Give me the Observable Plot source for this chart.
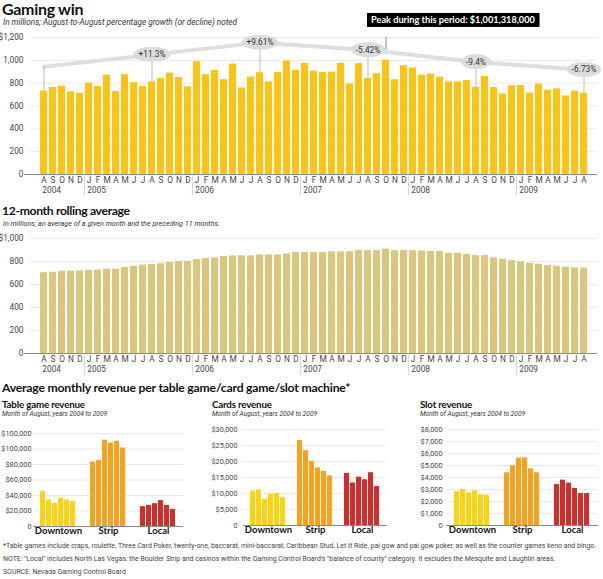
<!DOCTYPE html>
<html><head><meta charset="utf-8">
<script src="https://cdn.jsdelivr.net/npm/d3@7"></script>
<script src="https://cdn.jsdelivr.net/npm/@observablehq/plot@0.6"></script>
<style>
body{margin:0;background:#fff;}
#page{position:relative;width:603px;height:579px;overflow:hidden;background:#fff;color:#111;}
.abs{position:absolute;white-space:nowrap;line-height:1.15;}
.head{font-family:Lato,'Open Sans',sans-serif;font-weight:700;color:#111;}
.narrow{font-family:Roboto,'Liberation Sans',sans-serif;}
.sub{font-style:italic;color:#333;}
.foot{font-size:6.95px;color:#444;}
svg{position:absolute;overflow:visible;}
</style></head>
<body><div id="page">
<div class="abs head" style="left:2px;top:0px;font-size:16px;letter-spacing:-0.3px;">Gaming win</div>
<div class="abs narrow sub" style="left:3px;top:18px;font-size:8.2px;">In millions; August-to-August percentage growth (or decline) noted</div>
<div class="abs head" style="left:2px;top:204px;font-size:12.2px;letter-spacing:-0.35px;">12-month rolling average</div>
<div class="abs narrow sub" style="left:3px;top:220px;font-size:7.2px;">In millions; an average of a given month and the preceding 11 months.</div>
<div class="abs head" style="left:2px;top:381px;font-size:12.2px;letter-spacing:-0.2px;">Average monthly revenue per table game/card game/slot machine*</div>
<div class="abs head" style="left:2px;top:399px;font-size:9.8px;letter-spacing:-0.2px;">Table game revenue</div>
<div class="abs narrow sub" style="left:2px;top:411px;font-size:6.6px;">Month of August, years 2004 to 2009</div>
<div class="abs head" style="left:212px;top:399px;font-size:9.8px;letter-spacing:-0.2px;">Cards revenue</div>
<div class="abs narrow sub" style="left:212px;top:411px;font-size:6.6px;">Month of August, years 2004 to 2009</div>
<div class="abs head" style="left:420px;top:399px;font-size:9.8px;letter-spacing:-0.2px;">Slot revenue</div>
<div class="abs narrow sub" style="left:420px;top:411px;font-size:6.6px;">Month of August, years 2004 to 2009</div>
<div class="abs narrow foot" style="left:3px;top:542px;">*Table games include craps, roulette, Three Card Poker, twenty-one, baccarat, mini-baccarat, Caribbean Stud, Let It Ride, pai gow and pai gow poker, as well as the counter games keno and bingo.</div>
<div class="abs narrow foot" style="left:3px;top:555px;">NOTE: "Local" includes North Las Vegas, the Boulder Strip and casinos within the Gaming Control Board's "balance of county" category. It excludes the Mesquite and Laughlin areas.</div>
<div class="abs narrow foot" style="left:3px;top:568px;">SOURCE: Nevada Gaming Control Board</div>
</div>
<script>
const NARROW = "Roboto,'Liberation Sans',sans-serif";
const BOLD = "Lato,'Open Sans',sans-serif";
const YELLOW = "#fcc412", KHAKI = "#d9c77d";
const DT = "#fdd20f", ST = "#f7a21c", LO = "#d42b2b";

// ---- data ----
const monthLetters = ["J","F","M","A","M","J","J","A","S","O","N","D"];
const startYear = 2004, startMonth = 7; // August 2004
const gamingWin = [
  732, 762, 774, 724, 712,
  800, 771, 871, 727, 874, 803, 771, 812, 841, 888, 850, 768,
  988, 874, 912, 830, 968, 759, 853, 891, 812, 894, 994, 912,
  975, 905, 894, 897, 974, 793, 971, 843, 883, 1001.318, 830, 953,
  933, 871, 880, 853, 812, 812, 824, 764, 859, 762, 706, 777,
  780, 712, 791, 738, 750, 688, 730, 712
];
const rollingAvg = [
  702, 707, 716, 716, 718,
  722, 725, 733, 733, 748, 757, 768, 774, 780, 791, 800, 800,
  817, 826, 832, 843, 849, 849, 849, 858, 858, 858, 867, 878,
  878, 877, 878, 884, 884, 885, 896, 894, 895, 907, 894, 896,
  894, 891, 888, 888, 872, 872, 861, 852, 852, 832, 820, 809,
  797, 785, 777, 765, 759, 751, 745, 742
];
const growthLabels = ["+11.3%", "+9.61%", "-5.42%", "-9.4%", "-6.73%"];
const peakLabel = "Peak during this period: $1,001,318,000";
const winTicks = [0, 200, 400, 600, 800, 1000, 1200];
const winTickLabels = ["0", "200", "400", "600", "800", "1,000", "$1,200"];
const avgTicks = [0, 200, 400, 600, 800, 1000];
const avgTickLabels = ["0", "200", "400", "600", "800", "$1,000"];

const regions = ["Downtown", "Strip", "Local"];
const augYears = ["2004", "2005", "2006", "2007", "2008", "2009"];
const tableDowntown = [45400, 34200, 29900, 36000, 34200, 32500];
const tableStrip = [83100, 85300, 111300, 107800, 110000, 101300];
const tableLocal = [25600, 27300, 29500, 33400, 27300, 22100];
const cardsDowntown = [10800, 11100, 8200, 9700, 10000, 8700];
const cardsStrip = [26600, 23400, 20000, 18000, 16900, 15500];
const cardsLocal = [16300, 13300, 15100, 14300, 16500, 12200];
const slotDowntown = [2830, 3000, 2720, 2890, 2560, 2530];
const slotStrip = [4390, 4980, 5610, 5640, 4720, 4390];
const slotLocal = [3420, 3780, 3530, 3080, 2670, 2670];
const tableTicks = [0, 20000, 40000, 60000, 80000, 100000, 120000];
const tableTickLabels = ["0", "$20,000", "$40,000", "$60,000", "$80,000", "$100,000", "$100,000"];
const cardsTicks = [0, 5000, 10000, 15000, 20000, 25000, 30000];
const cardsTickLabels = ["0", "$5,000", "$10,000", "$15,000", "$20,000", "$25,000", "$30,000"];
const slotTicks = [0, 1000, 2000, 3000, 4000, 5000, 6000, 7000, 8000];
const slotTickLabels = ["0", "$1,000", "$2,000", "$3,000", "$4,000", "$5,000", "$6,000", "$7,000", "$8,000"];

// ---- tables ----
const rows = gamingWin.map((v, i) => {
  const t = startMonth + i;
  const y = startYear + Math.floor(t / 12);
  return {key: `${y}-${t % 12}`, year: String(y), m: t % 12, v, r: rollingAvg[i]};
});
const janRows = rows.filter(d => d.m === 0);
const yearStarts = rows.filter((d, i) => i === 0 || d.m === 0);
const augRows = rows.filter(d => d.m === 7).map((d, j) => ({...d, label: j ? growthLabels[j - 1] : null, trend: 1.33 * d.v - 30}));
const peakRow = rows.reduce((a, b) => (b.v > a.v ? b : a));

const page = document.getElementById("page");
const PAD = 0.2;
const step1 = (603 - 30 - 6) / (rows.length - PAD + 2 * PAD);
const monthFmt = k => monthLetters[+k.split("-")[1]];
const baseStyle = {fontFamily: NARROW, fontSize: "8.3px", color: "#444", background: "transparent", overflow: "visible"};

function timeChart({top, height, mT, mB, yMax, ticks, tickLabels, field, fill, sepTop, extra}) {
  const svg = Plot.plot({
    width: 603, height, marginTop: mT, marginBottom: mB, marginLeft: 30, marginRight: 6,
    style: baseStyle,
    x: {domain: rows.map(d => d.key), padding: PAD},
    y: {domain: [0, yMax]},
    marks: [
      Plot.ruleY(ticks.slice(1), {stroke: "#e8e8e8"}),
      Plot.barY(rows, {x: "key", y: field, fill}),
      Plot.ruleY([0], {stroke: "#8a8a8a", insetLeft: -6}),
      Plot.axisY(ticks, {tickSize: 0, tickPadding: 7, label: null, tickFormat: d => tickLabels[ticks.indexOf(d)]}),
      Plot.axisX({tickSize: 0, tickPadding: 3, label: null, tickFormat: monthFmt}),
      Plot.ruleX(janRows, {x: "key", dx: -step1 / 2, insetTop: sepTop, insetBottom: -22, stroke: "#c8c8c8", strokeWidth: 0.8}),
      Plot.text(yearStarts, {x: "key", text: "year", frameAnchor: "bottom", lineAnchor: "middle", dy: 16, dx: -step1 / 2 + 3, textAnchor: "start", fill: "#444"}),
      ...(extra || [])
    ]
  });
  svg.style.left = "0px";
  svg.style.top = top + "px";
  page.appendChild(svg);
  return svg;
}

const svg1 = timeChart({
  top: 0, height: 210, mT: 37, mB: 36, yMax: 1200, ticks: winTicks, tickLabels: winTickLabels,
  field: "v", fill: YELLOW, sepTop: 139,
  extra: [
    Plot.line(augRows, {x: "key", y: "trend", stroke: "#dedede", strokeWidth: 4}),
    Plot.ruleX(augRows, {x: "key", y1: "v", y2: "trend", stroke: "#a8a8a8", strokeWidth: 0.8}),
    Plot.ruleX([peakRow], {x: "key", y1: "v", y2: () => 1200, insetTop: -10, stroke: "#666", strokeWidth: 0.8}),
    Plot.text(augRows.filter(d => d.label), {x: "key", y: "trend", text: "label", fill: "#333", fontSize: 8.3}),
    Plot.text([peakRow], {x: "key", text: () => peakLabel, frameAnchor: "top", lineAnchor: "middle", dy: -17, dx: -15, textAnchor: "start", fill: "#fff", fontWeight: "bold", fontFamily: BOLD, fontSize: 9.2})
  ]
});
timeChart({
  top: 228, height: 150, mT: 10, mB: 25, yMax: 1000, ticks: avgTicks, tickLabels: avgTickLabels,
  field: "r", fill: KHAKI, sepTop: 117
});

// backgrounds behind annotation texts
const NS = "http://www.w3.org/2000/svg";
svg1.querySelectorAll("text").forEach(t => {
  const s = t.textContent;
  let el = null;
  if (growthLabels.includes(s)) {
    const b = t.getBBox();
    el = document.createElementNS(NS, "ellipse");
    el.setAttribute("cx", b.x + b.width / 2);
    el.setAttribute("cy", b.y + b.height / 2);
    el.setAttribute("rx", b.width / 2 + 5);
    el.setAttribute("ry", 7.5);
    el.setAttribute("fill", "#dcdcdc");
  } else if (s === peakLabel) {
    const b = t.getBBox();
    el = document.createElementNS(NS, "rect");
    el.setAttribute("x", b.x - 4);
    el.setAttribute("y", b.y - 1.5);
    el.setAttribute("width", b.width + 8);
    el.setAttribute("height", b.height + 3);
    el.setAttribute("fill", "#000");
  }
  if (el) {
    const tr = t.getAttribute("transform");
    if (tr) el.setAttribute("transform", tr);
    t.parentNode.insertBefore(el, t);
  }
});

function smallChart({left, width, mL, mR, mT, mB, padOuter, tickPad, gap, vals, ticks, tickLabels}) {
  const data = regions.flatMap((r, ri) => augYears.map((y, yi) => ({region: r, year: y, value: vals[ri][yi]})));
  const svg = Plot.plot({
    width, height: 120, marginLeft: mL, marginRight: mR, marginTop: mT, marginBottom: mB,
    style: {...baseStyle, fontSize: "7.3px"},
    fx: {domain: regions, paddingInner: 0.2, paddingOuter: padOuter},
    x: {domain: augYears, padding: 0.1, axis: null},
    y: {domain: [0, ticks[ticks.length - 1]]},
    color: {domain: regions, range: [DT, ST, LO]},
    marks: [
      Plot.ruleY(ticks.slice(1), {stroke: "#e8e8e8", insetLeft: -gap, insetRight: -gap}),
      Plot.barY(data, {fx: "region", x: "year", y: "value", fill: "region"}),
      Plot.ruleY([0], {stroke: "#8a8a8a", insetLeft: -gap, insetRight: -gap}),
      Plot.axisY(ticks, {tickSize: 0, tickPadding: tickPad, label: null, tickFormat: d => tickLabels[ticks.indexOf(d)]}),
      Plot.axisFx({anchor: "bottom", tickSize: 0, tickPadding: 1, label: null, fontSize: 9.5, fontWeight: "bold", fontFamily: BOLD, fill: "#111"})
    ]
  });
  svg.style.left = left + "px";
  svg.style.top = "420px";
  page.appendChild(svg);
}
smallChart({left: 0, width: 195, mL: 33, mR: 12, mT: 13, mB: 14, padOuter: 0.1, tickPad: 7, gap: 5,
  vals: [tableDowntown, tableStrip, tableLocal], ticks: tableTicks, tickLabels: tableTickLabels});
smallChart({left: 195, width: 205, mL: 43, mR: 8, mT: 9, mB: 15, padOuter: 0.22, tickPad: 12, gap: 6,
  vals: [cardsDowntown, cardsStrip, cardsLocal], ticks: cardsTicks, tickLabels: cardsTickLabels});
smallChart({left: 400, width: 203, mL: 44, mR: 3, mT: 9, mB: 15, padOuter: 0.16, tickPad: 10, gap: 6,
  vals: [slotDowntown, slotStrip, slotLocal], ticks: slotTicks, tickLabels: slotTickLabels});
</script>
</body></html>
